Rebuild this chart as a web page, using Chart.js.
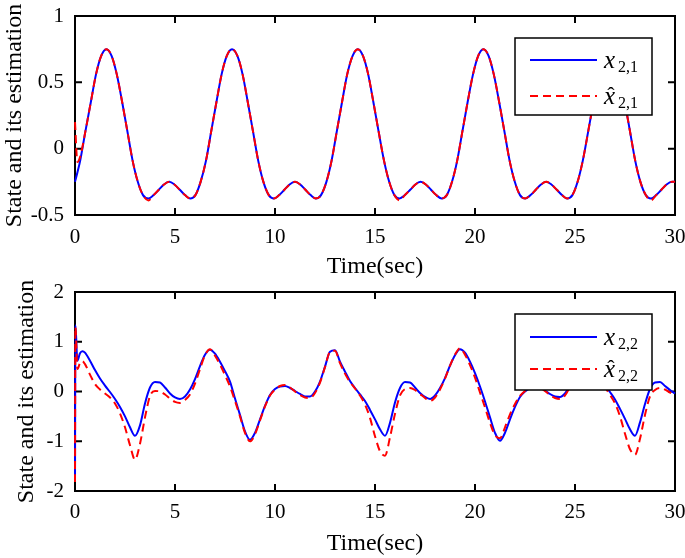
<!DOCTYPE html>
<html>
<head>
<meta charset="utf-8">
<script src="https://cdn.jsdelivr.net/npm/chart.js@4.4.1/dist/chart.umd.min.js"></script>
<style>
body{margin:0;background:#fff;overflow:hidden;}
#wrap{position:relative;width:685px;height:558px;background:#fff;overflow:hidden;}
canvas{position:absolute;left:0;}
</style>
</head>
<body>
<div id="wrap">
<canvas id="topChart" width="710" height="300" style="top:-10px;width:710px;height:300px"></canvas>
<canvas id="bottomChart" width="710" height="292" style="top:266px;width:710px;height:292px"></canvas>
</div>
<script>
// ---- data ----
const timeTop = [
 0,0.12,0.26,0.52,0.79,1.05,1.31,1.57,1.83,2.09,2.36,2.62,2.88,3.14,3.40,3.67,3.93,4.19,4.45,4.71,4.97,5.24,5.50,5.76,6.02,
 6.28,6.55,6.81,7.07,7.33,7.59,7.85,8.12,8.38,8.64,8.90,9.16,9.42,9.69,9.95,10.21,10.47,10.73,11.00,11.26,11.52,11.78,12.04,12.30,
 12.57,12.83,13.09,13.35,13.61,13.88,14.14,14.40,14.66,14.92,15.18,15.45,15.71,15.97,16.23,16.49,16.76,17.02,17.28,17.54,17.80,18.06,18.33,18.59,
 18.85,19.11,19.37,19.63,19.90,20.16,20.42,20.68,20.94,21.21,21.47,21.73,21.99,22.25,22.51,22.78,23.04,23.30,23.56,23.82,24.09,24.35,24.61,24.87,
 25.13,25.39,25.66,25.92,26.18,26.44,26.70,26.97,27.23,27.49,27.75,28.01,28.27,28.54,28.80,29.06,29.32,29.58,29.85,30
];
const x21 = [
 -0.25,-0.18,-0.09,0.13,0.35,0.56,0.70,0.75,0.70,0.56,0.35,0.13,-0.09,-0.25,-0.35,-0.375,-0.35,-0.31,-0.27,-0.25,-0.27,-0.31,-0.35,-0.375,-0.35,
 -0.25,-0.09,0.13,0.35,0.56,0.70,0.75,0.70,0.56,0.35,0.13,-0.09,-0.25,-0.35,-0.375,-0.35,-0.31,-0.27,-0.25,-0.27,-0.31,-0.35,-0.375,-0.35,
 -0.25,-0.09,0.13,0.35,0.56,0.70,0.75,0.70,0.56,0.35,0.13,-0.09,-0.25,-0.35,-0.375,-0.35,-0.31,-0.27,-0.25,-0.27,-0.31,-0.35,-0.375,-0.35,
 -0.25,-0.09,0.13,0.35,0.56,0.70,0.75,0.70,0.56,0.35,0.13,-0.09,-0.25,-0.35,-0.375,-0.35,-0.31,-0.27,-0.25,-0.27,-0.31,-0.35,-0.375,-0.35,
 -0.25,-0.09,0.13,0.35,0.56,0.70,0.75,0.70,0.56,0.35,0.13,-0.09,-0.25,-0.35,-0.375,-0.35,-0.31,-0.27,-0.25,-0.25
];
const x21hat = [
 0.20,-0.10,-0.06,0.13,0.35,0.56,0.70,0.75,0.70,0.56,0.35,0.13,-0.09,-0.25,-0.35,-0.39,-0.35,-0.31,-0.27,-0.25,-0.27,-0.31,-0.35,-0.375,-0.35,
 -0.25,-0.09,0.13,0.35,0.56,0.70,0.75,0.70,0.56,0.35,0.13,-0.09,-0.25,-0.35,-0.375,-0.35,-0.31,-0.27,-0.25,-0.27,-0.31,-0.35,-0.375,-0.35,
 -0.25,-0.09,0.13,0.35,0.56,0.70,0.75,0.70,0.56,0.35,0.13,-0.09,-0.25,-0.35,-0.39,-0.35,-0.31,-0.27,-0.25,-0.27,-0.31,-0.35,-0.375,-0.35,
 -0.25,-0.09,0.13,0.35,0.56,0.70,0.75,0.70,0.56,0.35,0.13,-0.09,-0.25,-0.35,-0.375,-0.35,-0.31,-0.27,-0.25,-0.27,-0.31,-0.35,-0.375,-0.35,
 -0.25,-0.09,0.13,0.35,0.56,0.70,0.75,0.70,0.56,0.35,0.13,-0.09,-0.25,-0.35,-0.39,-0.35,-0.31,-0.27,-0.25,-0.25
];

const timeBottom = [
 0,0.02,0.12,0.25,0.37,0.5,0.75,
 1,1.25,1.5,1.75, 2,2.25,2.5,2.75, 3,3.25,3.5,3.75, 4,4.25,4.5,4.75, 5,5.25,5.5,5.75,
 6,6.25,6.5,6.75, 7,7.25,7.5,7.75, 8,8.25,8.5,8.75, 9,9.25,9.5,9.75, 10,10.25,10.5,10.75,
 11,11.25,11.5,11.75, 12,12.25,12.5,12.75, 13,13.25,13.5,13.75, 14,14.25,14.5,14.75, 15,15.25,15.5,15.75,
 16,16.25,16.5,16.75, 17,17.25,17.5,17.75, 18,18.25,18.5,18.75, 19,19.25,19.5,19.75, 20,20.25,20.5,20.75,
 21,21.25,21.5,21.75, 22,22.25,22.5,22.75, 23,23.25,23.5,23.75, 24,24.25,24.5,24.75, 25,25.25,25.5,25.75,
 26,26.25,26.5,26.75, 27,27.25,27.5,27.75, 28,28.25,28.5,28.75, 29,29.25,29.5,29.75, 30
];
const x22 = [
 -1.78,1.33,0.62,0.77,0.81,0.78,0.62,
 0.43,0.26,0.12,-0.01, -0.15,-0.31,-0.50,-0.72, -0.89,-0.68,-0.24,0.08, 0.19,0.18,0.08,-0.04, -0.12,-0.15,-0.10,0.04,
 0.25,0.51,0.74,0.84, 0.76,0.60,0.41,0.20, -0.14,-0.47,-0.80,-0.97, -0.83,-0.56,-0.29,-0.07, 0.05,0.10,0.11,0.07,
 0.01,-0.05,-0.10,-0.10, 0.00,0.20,0.50,0.80, 0.83,0.60,0.40,0.21, 0.07,-0.06,-0.19,-0.37, -0.56,-0.76,-0.89,-0.63,
 -0.22,0.07,0.19,0.18, 0.08,-0.03,-0.11,-0.15, -0.08,0.07,0.27,0.52, 0.73,0.85,0.78,0.60, 0.37,0.10,-0.20,-0.52,
 -0.83,-0.99,-0.83,-0.56, -0.31,-0.11,0.00,0.07, 0.10,0.08,0.02,-0.05, -0.10,-0.11,-0.04,0.12, 0.38,0.68,0.84,0.72,
 0.50,0.30,0.13,-0.01, -0.16,-0.35,-0.55,-0.76, -0.89,-0.62,-0.25,0.05, 0.18,0.19,0.11,0.03, -0.04
];
const x22hat = [
 -1.82,1.30,0.45,0.57,0.61,0.55,0.34,
 0.15,0.04,-0.04,-0.12, -0.24,-0.44,-0.72,-1.08, -1.37,-1.05,-0.52,-0.09, 0.01,0.00,-0.06,-0.14, -0.21,-0.23,-0.17,-0.06,
 0.16,0.45,0.73,0.85, 0.72,0.54,0.33,0.10, -0.19,-0.50,-0.83,-1.00, -0.86,-0.58,-0.30,-0.08, 0.04,0.11,0.13,0.08,
 0.00,-0.07,-0.12,-0.13, -0.03,0.18,0.49,0.80, 0.82,0.57,0.36,0.19, 0.06,-0.08,-0.26,-0.53, -0.90,-1.20,-1.29,-0.92,
 -0.45,-0.08,0.05,0.07, 0.03,-0.05,-0.13,-0.19, -0.12,0.04,0.26,0.52, 0.74,0.87,0.74,0.53, 0.28,-0.02,-0.32,-0.63,
 -0.88,-0.94,-0.72,-0.46, -0.25,-0.09,0.01,0.08, 0.11,0.08,0.01,-0.07, -0.13,-0.15,-0.08,0.10, 0.36,0.65,0.83,0.70,
 0.46,0.26,0.09,-0.07, -0.24,-0.50,-0.85,-1.16, -1.27,-0.95,-0.47,-0.10, 0.03,0.07,0.04,-0.02, -0.06
];

const xTicks = [0, 30, 5];          // min, max, step
const yTicksTop = [-0.5, 1, 0.5];
const yTicksBottom = [-2, 2, 1];
const subTop = '2,1';
const subBottom = '2,2';

Chart.defaults.font.family = '"Liberation Serif", "Times New Roman", serif';
Chart.defaults.color = '#000';

// box, inward ticks and the legend (matlab style)
const framePlugin = {
  id: 'frame',
  beforeDatasetsDraw(chart) {
    const {ctx, chartArea: a, scales: {x, y}} = chart;
    ctx.save();
    ctx.strokeStyle = '#000';
    ctx.lineWidth = 2;
    ctx.strokeRect(a.left, a.top, a.right - a.left, a.bottom - a.top);
    const tl = 7;
    ctx.beginPath();
    x.ticks.forEach(t => {
      const px = x.getPixelForValue(t.value);
      ctx.moveTo(px, a.bottom); ctx.lineTo(px, a.bottom - tl);
      ctx.moveTo(px, a.top); ctx.lineTo(px, a.top + tl);
    });
    y.ticks.forEach(t => {
      const py = y.getPixelForValue(t.value);
      ctx.moveTo(a.left, py); ctx.lineTo(a.left + tl, py);
      ctx.moveTo(a.right, py); ctx.lineTo(a.right - tl, py);
    });
    ctx.stroke();
    ctx.restore();
  },
  afterDatasetsDraw(chart, args, lg) {
    const ctx = chart.ctx;
    ctx.save();
    ctx.fillStyle = '#fff';
    ctx.fillRect(lg.l, lg.t, lg.r - lg.l, lg.b - lg.t);
    ctx.strokeStyle = '#000';
    ctx.lineWidth = 1.5;
    ctx.strokeRect(lg.l, lg.t, lg.r - lg.l, lg.b - lg.t);
    chart.data.datasets.forEach((ds, i) => {
      const ry = lg.rows[i];
      ctx.beginPath();
      ctx.setLineDash(ds.borderDash || []);
      ctx.strokeStyle = ds.borderColor;
      ctx.lineWidth = 2;
      ctx.moveTo(530, ry); ctx.lineTo(597, ry);
      ctx.stroke();
      ctx.setLineDash([]);
      ctx.fillStyle = '#000';
      ctx.textAlign = 'left';
      ctx.textBaseline = 'alphabetic';
      ctx.font = 'italic 25px "Liberation Serif"';
      ctx.fillText('x', 604, ry + 8);
      if (i === 1) {
        ctx.textAlign = 'center';
        ctx.font = '22px "Liberation Serif"';
        ctx.fillText('\u02C6', 611, ry + 6);
        ctx.textAlign = 'left';
      }
      ctx.font = '16px "Liberation Serif"';
      ctx.fillText(lg.sub, 618, ry + 12);
    });
    ctx.restore();
  }
};

function makeChart(id, c) {
  const line = (vals) => c.time.map((t, i) => ({x: t, y: vals[i]}));
  return new Chart(document.getElementById(id), {
    type: 'line',
    data: {
      datasets: [
        {label: 'x' + c.sub, data: line(c.state), borderColor: '#0000ff', borderWidth: 2,
         pointRadius: 0, cubicInterpolationMode: 'monotone', order: 2, clip: 4},
        {label: 'x\u0302' + c.sub, data: line(c.est), borderColor: '#ff0000', borderWidth: 2, borderDash: [8, 5],
         pointRadius: 0, cubicInterpolationMode: 'monotone', order: 1, clip: 4}
      ]
    },
    options: {
      responsive: false,
      animation: false,
      // the canvas is wider than the window so that the "30" label does not shrink the plot
      layout: {padding: {top: c.padTop, right: 35, left: 0, bottom: 0}},
      plugins: {
        legend: {display: false},
        tooltip: {enabled: false},
        frame: c.legend
      },
      scales: {
        x: {
          type: 'linear', min: xTicks[0], max: xTicks[1],
          ticks: {stepSize: xTicks[2], padding: c.xTickPad, maxRotation: 0, font: {size: 21}},
          grid: {display: false, drawTicks: false},
          border: {display: false},
          title: {display: true, text: 'Time(sec)', font: {size: 24}, padding: {top: 0, bottom: c.xTitlePad}},
          afterFit(s) { s.height = c.xH; }
        },
        y: {
          min: c.yTicks[0], max: c.yTicks[1],
          ticks: {stepSize: c.yTicks[2], padding: 11, font: {size: 21}, callback: v => String(v)},
          grid: {display: false, drawTicks: false},
          border: {display: false},
          title: {display: true, text: 'State and its estimation', font: {size: 24}, padding: {top: c.yTitlePad, bottom: 0}},
          afterFit(s) { s.width = 75; }
        }
      }
    },
    plugins: [framePlugin]
  });
}

makeChart('topChart', {
  time: timeTop, state: x21, est: x21hat, sub: subTop, yTicks: yTicksTop,
  padTop: 26, xH: 75, xTickPad: 10, xTitlePad: 9, yTitlePad: 0,
  legend: {l: 515, t: 48, r: 652, b: 125, rows: [70, 106], sub: subTop}
});
makeChart('bottomChart', {
  time: timeBottom, state: x22, est: x22hat, sub: subBottom, yTicks: yTicksBottom,
  padTop: 26, xH: 67, xTickPad: 9, xTitlePad: 0, yTitlePad: 12,
  legend: {l: 515, t: 48, r: 652, b: 124, rows: [71, 103], sub: subBottom}
});
</script>
</body>
</html>
